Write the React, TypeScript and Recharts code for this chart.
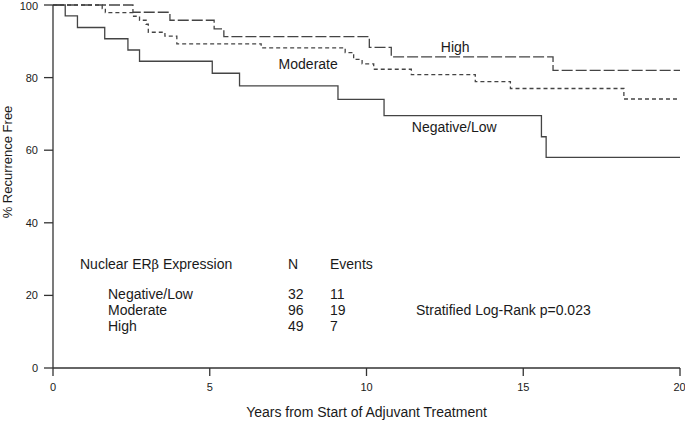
import React from 'react';
import { LineChart, Line, XAxis, YAxis, ReferenceDot, Label } from 'recharts';

// Kaplan-Meier steps (years, % recurrence free)
const negLowYears = [0, 0.39, 0.78, 1.65, 2.39, 2.76, 5.08, 5.95, 9.09, 10.56, 15.58, 15.73, 20];
const negLowSurv = [100, 97.0, 93.8, 90.7, 87.6, 84.5, 81.2, 77.7, 74.0, 69.5, 63.7, 58.0, 58.0];

const moderateYears = [0, 1.57, 1.67, 2.57, 2.76, 2.97, 3.04, 3.57, 3.95, 6.64, 9.32, 9.59, 9.86, 10.23, 11.43, 13.47, 14.59, 18.21, 20];
const moderateSurv = [100, 99.0, 97.9, 96.9, 95.8, 94.7, 92.5, 91.4, 89.3, 88.2, 86.9, 85.0, 83.8, 82.3, 80.8, 78.9, 77.0, 74.1, 74.1];

const highYears = [0, 2.55, 3.73, 5.14, 5.45, 10.09, 10.79, 15.95, 20];
const highSurv = [100, 98.0, 95.8, 93.4, 91.3, 88.3, 85.7, 82.0, 82.0];

const xTicks = [0, 5, 10, 15, 20];
const yTicks = [0, 20, 40, 60, 80, 100];

// curve annotations
const annotText = ['High', 'Moderate', 'Negative/Low'];
const annotYear = [12.83, 8.14, 12.8];
const annotValue = [88.3, 83.8, 66.3];

// summary table
const groupNames = ['Negative/Low', 'Moderate', 'High'];
const groupN = [32, 96, 49];
const groupEvents = [11, 19, 7];
const pValueText = 'Stratified Log-Rank p=0.023';

const toRows = (years: number[], surv: number[]) => years.map((t, i) => ({ year: t, surv: surv[i] }));

const FONT = '"Liberation Sans", Arial, sans-serif';
const INK = '#1a1a1a';
const LINE = '#444';

const tableText: React.CSSProperties = {
  position: 'absolute',
  fontFamily: FONT,
  fontSize: 14,
  lineHeight: '16px',
  color: INK,
  whiteSpace: 'nowrap',
};

export default function App() {
  return (
    <div style={{ position: 'absolute', left: 0, top: 0, width: 685, height: 425, background: '#fff' }}>
      <LineChart width={685} height={425} margin={{ top: 5, right: 5, left: 8, bottom: 7 }}>
        <XAxis
          type="number"
          dataKey="year"
          domain={[0, 20]}
          ticks={xTicks}
          allowDuplicatedCategory={false}
          stroke="#333"
          strokeWidth={1.3}
          tickSize={8}
          tickMargin={7}
          height={50}
          tick={{ fontSize: 11, fill: INK, fontFamily: FONT }}
        >
          <Label
            content={(p: any) => (
              <text x={p.viewBox.x + p.viewBox.width / 2} y={p.viewBox.y + 44} textAnchor="middle" dominantBaseline="central" fontSize={14} fontFamily={FONT} fill={INK}>
                Years from Start of Adjuvant Treatment
              </text>
            )}
          />
        </XAxis>
        <YAxis
          type="number"
          domain={[0, 100]}
          ticks={yTicks}
          width={45}
          stroke="#333"
          strokeWidth={1.3}
          tickSize={9}
          tickMargin={6}
          tick={{ fontSize: 11, fill: INK, fontFamily: FONT }}
        >
          <Label
            content={(p: any) => {
              const cx = p.viewBox.x - 1;
              const cy = p.viewBox.y + 157;
              return (
                <text x={cx} y={cy} transform={`rotate(-90, ${cx}, ${cy})`} textAnchor="middle" dominantBaseline="central" fontSize={13} fontFamily={FONT} fill={INK}>
                  % Recurrence Free
                </text>
              );
            }}
          />
        </YAxis>

        <Line data={toRows(highYears, highSurv)} dataKey="surv" type="stepAfter" stroke={LINE} strokeWidth={1.3} strokeDasharray="11 3" dot={false} isAnimationActive={false} />
        <Line data={toRows(moderateYears, moderateSurv)} dataKey="surv" type="stepAfter" stroke={LINE} strokeWidth={1.3} strokeDasharray="4 3" dot={false} isAnimationActive={false} />
        <Line data={toRows(negLowYears, negLowSurv)} dataKey="surv" type="stepAfter" stroke={LINE} strokeWidth={1.3} dot={false} isAnimationActive={false} />

        {annotText.map((txt, i) => (
          <ReferenceDot
            key={txt}
            x={annotYear[i]}
            y={annotValue[i]}
            r={0}
            fill="none"
            stroke="none"
            label={{ value: txt, position: 'center', fontSize: 14, fill: INK, fontFamily: FONT }}
          />
        ))}
      </LineChart>

      <div style={{ ...tableText, left: 80, top: 256 }}>
        Nuclear ER<span style={{ fontFamily: '"DejaVu Serif", serif', fontSize: 13 }}>β</span> Expression
      </div>
      <div style={{ ...tableText, left: 288, top: 256 }}>N</div>
      <div style={{ ...tableText, left: 330, top: 256 }}>Events</div>
      {groupNames.map((g, i) => (
        <React.Fragment key={g}>
          <div style={{ ...tableText, left: 108, top: 286 + i * 16 }}>{g}</div>
          <div style={{ ...tableText, left: 288, top: 286 + i * 16 }}>{groupN[i]}</div>
          <div style={{ ...tableText, left: 330, top: 286 + i * 16 }}>{groupEvents[i]}</div>
        </React.Fragment>
      ))}
      <div style={{ ...tableText, left: 416, top: 302 }}>{pValueText}</div>
    </div>
  );
}
